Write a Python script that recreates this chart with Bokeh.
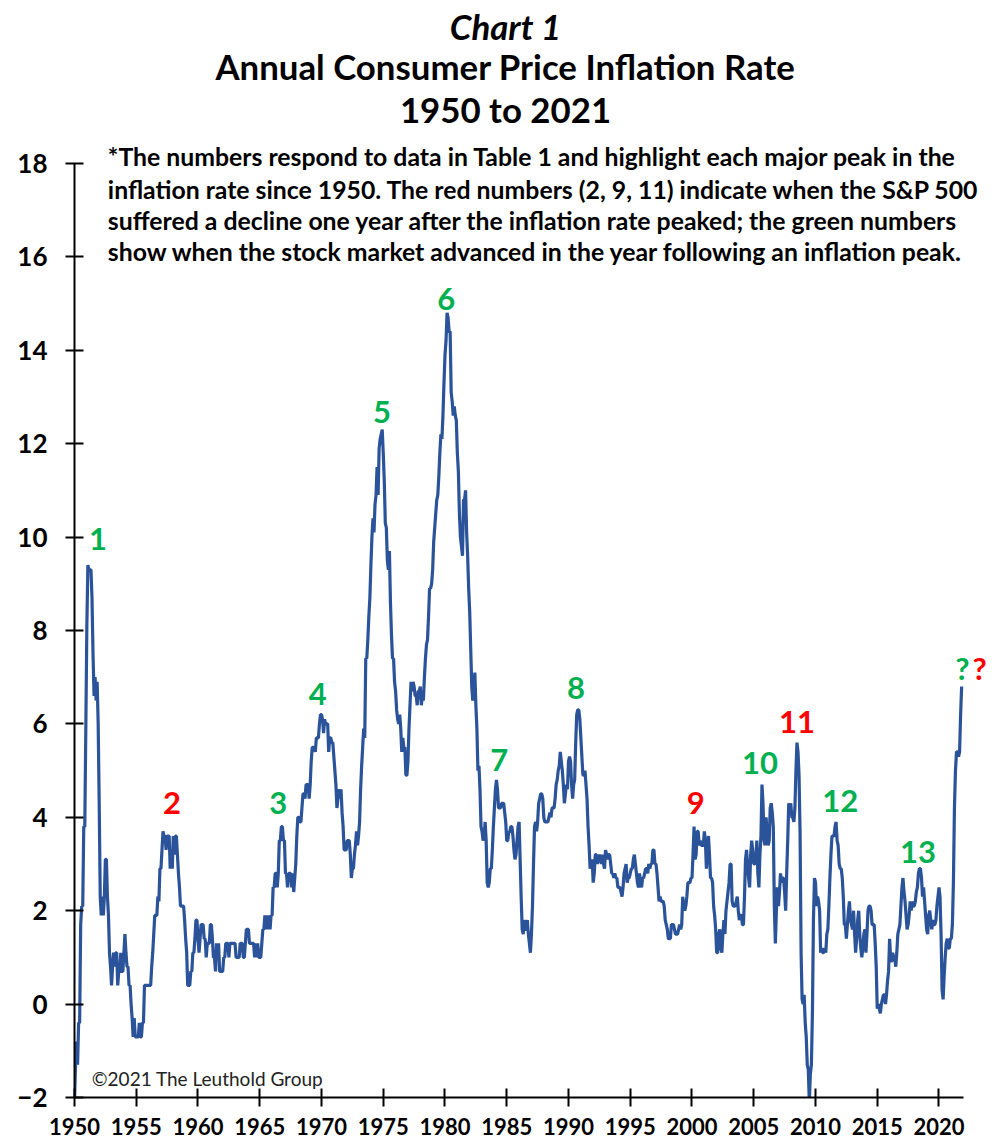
from bokeh.plotting import figure
from bokeh.models import Label, Range1d, FixedTicker, ColumnDataSource
from bokeh.embed import file_html
from bokeh.resources import INLINE

# Monthly annual CPI inflation rate (%)
cpi_1950s = [
    -2.1, -1.3, -0.8, -1.3, -0.4, -0.4, 1.7, 2.1, 2.1, 3.8, 3.8, 5.9,
    8.1, 9.4, 9.3, 9.3, 9.3, 8.7, 7.5, 6.6, 7.0, 6.5, 6.9, 6.0,
    4.3, 2.3, 1.9, 2.3, 1.9, 2.3, 3.1, 3.1, 2.3, 1.9, 1.1, 0.8,
    0.4, 0.8, 1.1, 0.8, 1.1, 1.1, 0.4, 0.7, 0.7, 1.1, 0.7, 0.7,
    1.1, 1.5, 1.1, 0.8, 0.8, 0.4, 0.4, 0.0, -0.3, -0.7, -0.3, -0.7,
    -0.7, -0.7, -0.7, -0.4, -0.7, -0.7, -0.4, -0.4, 0.4, 0.4, 0.4, 0.4,
    0.4, 0.4, 0.4, 0.8, 1.1, 1.5, 1.9, 1.9, 1.9, 2.3, 2.2, 2.9,
    2.9, 3.3, 3.7, 3.6, 3.6, 3.3, 3.6, 3.6, 3.6, 2.9, 3.2, 2.9,
    3.6, 3.2, 3.6, 3.6, 3.2, 2.8, 2.5, 2.1, 2.1, 2.1, 2.1, 1.8,
    1.4, 1.1, 0.4, 0.4, 0.4, 0.7, 0.7, 1.1, 1.1, 1.4, 1.8, 1.8,
]
cpi_1960s = [
    1.4, 1.1, 1.4, 1.7, 1.7, 1.7, 1.4, 1.4, 1.0, 1.3, 1.3, 1.3,
    1.7, 1.7, 1.4, 1.0, 1.0, 0.7, 1.3, 1.0, 1.3, 0.7, 0.7, 0.7,
    0.7, 1.0, 1.0, 1.3, 1.3, 1.3, 1.0, 1.3, 1.3, 1.3, 1.3, 1.3,
    1.3, 1.0, 1.0, 1.0, 1.0, 1.3, 1.3, 1.3, 1.0, 1.0, 1.3, 1.6,
    1.6, 1.6, 1.3, 1.3, 1.3, 1.3, 1.3, 1.0, 1.3, 1.0, 1.3, 1.0,
    1.0, 1.0, 1.3, 1.6, 1.6, 1.9, 1.6, 1.9, 1.6, 1.9, 1.6, 1.9,
    1.9, 2.5, 2.5, 2.8, 2.8, 2.5, 2.8, 3.5, 3.5, 3.8, 3.8, 3.5,
    3.5, 2.8, 2.8, 2.5, 2.8, 2.8, 2.8, 2.5, 2.8, 2.4, 2.7, 3.0,
    3.6, 4.0, 4.0, 3.9, 3.9, 4.2, 4.5, 4.5, 4.4, 4.7, 4.7, 4.7,
    4.4, 4.7, 5.2, 5.5, 5.5, 5.5, 5.4, 5.7, 5.7, 5.7, 6.0, 6.2,
]
cpi_1970s = [
    6.2, 6.1, 5.8, 6.1, 6.0, 6.0, 6.0, 5.4, 5.7, 5.7, 5.6, 5.6,
    5.3, 5.0, 4.7, 4.2, 4.4, 4.6, 4.4, 4.6, 4.1, 3.8, 3.3, 3.3,
    3.3, 3.5, 3.5, 3.5, 3.2, 2.7, 2.9, 2.9, 3.2, 3.4, 3.7, 3.4,
    3.6, 3.9, 4.6, 5.1, 5.5, 5.9, 5.7, 7.4, 7.4, 7.8, 8.3, 8.7,
    9.4, 10.0, 10.4, 10.1, 10.7, 10.9, 11.5, 10.9, 11.9, 12.1, 12.2, 12.3,
    11.8, 11.2, 10.3, 10.2, 9.5, 9.3, 9.7, 8.6, 7.9, 7.4, 7.4, 6.9,
    6.7, 6.3, 6.1, 6.0, 6.2, 5.9, 5.4, 5.7, 5.5, 5.5, 4.9, 4.9,
    5.2, 5.9, 6.4, 6.9, 6.7, 6.9, 6.8, 6.6, 6.6, 6.4, 6.7, 6.7,
    6.8, 6.4, 6.6, 6.5, 7.0, 7.4, 7.7, 7.8, 8.3, 8.9, 8.9, 9.0,
    9.3, 9.9, 10.2, 10.5, 10.8, 10.9, 11.3, 11.8, 12.2, 12.1, 12.6, 13.3,
]
cpi_1980s = [
    13.9, 14.2, 14.8, 14.7, 14.4, 14.4, 13.1, 12.9, 12.6, 12.8, 12.6, 12.5,
    11.8, 11.4, 10.5, 10.0, 9.8, 9.6, 10.8, 10.8, 11.0, 10.1, 9.6, 8.9,
    8.4, 7.6, 6.8, 6.5, 6.7, 7.1, 6.4, 5.9, 5.0, 5.1, 4.6, 3.8,
    3.7, 3.5, 3.6, 3.9, 3.5, 2.6, 2.5, 2.6, 2.9, 2.9, 3.3, 3.8,
    4.2, 4.6, 4.8, 4.6, 4.2, 4.2, 4.2, 4.3, 4.3, 4.3, 4.1, 3.9,
    3.5, 3.5, 3.7, 3.7, 3.8, 3.8, 3.6, 3.3, 3.1, 3.2, 3.5, 3.8,
    3.9, 3.1, 2.3, 1.6, 1.5, 1.8, 1.6, 1.6, 1.8, 1.5, 1.3, 1.1,
    1.5, 2.1, 3.0, 3.8, 3.9, 3.7, 3.9, 4.3, 4.4, 4.5, 4.5, 4.4,
    4.0, 3.9, 3.9, 3.9, 3.9, 4.0, 4.1, 4.0, 4.2, 4.2, 4.2, 4.4,
    4.7, 4.8, 5.0, 5.1, 5.4, 5.2, 5.0, 4.7, 4.3, 4.5, 4.7, 4.6,
]
cpi_1990s = [
    5.2, 5.3, 5.2, 4.7, 4.4, 4.7, 4.8, 5.6, 6.2, 6.3, 6.3, 6.1,
    5.7, 5.3, 4.9, 4.9, 5.0, 4.7, 4.4, 3.8, 3.4, 2.9, 3.0, 3.1,
    2.6, 2.8, 3.2, 3.2, 3.0, 3.1, 3.2, 3.1, 3.0, 3.2, 3.0, 2.9,
    3.3, 3.2, 3.1, 3.2, 3.2, 3.0, 2.8, 2.8, 2.7, 2.8, 2.7, 2.7,
    2.5, 2.5, 2.5, 2.4, 2.3, 2.5, 2.8, 2.9, 3.0, 2.6, 2.7, 2.7,
    2.8, 2.9, 2.9, 3.1, 3.2, 3.0, 2.8, 2.6, 2.5, 2.8, 2.6, 2.5,
    2.7, 2.7, 2.8, 2.9, 2.9, 2.8, 3.0, 2.9, 3.0, 3.0, 3.3, 3.3,
    3.0, 3.0, 2.8, 2.5, 2.2, 2.3, 2.2, 2.2, 2.2, 2.1, 1.8, 1.7,
    1.6, 1.4, 1.4, 1.4, 1.7, 1.7, 1.7, 1.6, 1.5, 1.5, 1.5, 1.6,
    1.7, 1.6, 1.7, 2.3, 2.1, 2.0, 2.1, 2.3, 2.6, 2.6, 2.6, 2.7,
]
cpi_2000s = [
    2.7, 3.2, 3.8, 3.1, 3.2, 3.7, 3.7, 3.4, 3.5, 3.4, 3.4, 3.4,
    3.7, 3.5, 2.9, 3.3, 3.6, 3.2, 2.7, 2.7, 2.6, 2.1, 1.9, 1.6,
    1.1, 1.1, 1.5, 1.6, 1.2, 1.1, 1.5, 1.8, 1.5, 2.0, 2.2, 2.4,
    2.6, 3.0, 3.0, 2.2, 2.1, 2.1, 2.1, 2.2, 2.3, 2.0, 1.8, 1.9,
    1.9, 1.7, 1.7, 2.3, 3.1, 3.3, 3.0, 2.7, 2.5, 3.2, 3.5, 3.3,
    3.0, 3.0, 3.1, 3.5, 2.8, 2.5, 3.2, 3.6, 4.7, 4.3, 3.5, 3.4,
    4.0, 3.6, 3.4, 3.5, 4.2, 4.3, 4.1, 3.8, 2.1, 1.3, 2.0, 2.5,
    2.1, 2.4, 2.8, 2.6, 2.7, 2.7, 2.4, 2.0, 2.8, 3.5, 4.3, 4.1,
    4.3, 4.0, 4.0, 3.9, 4.2, 5.0, 5.6, 5.4, 4.9, 3.7, 1.1, 0.1,
    0.0, 0.2, -0.4, -0.7, -1.3, -1.4, -2.1, -1.5, -1.3, -0.2, 1.8, 2.7,
]
cpi_2010s = [
    2.6, 2.1, 2.3, 2.2, 2.0, 1.1, 1.2, 1.1, 1.1, 1.2, 1.1, 1.5,
    1.6, 2.1, 2.7, 3.2, 3.6, 3.6, 3.6, 3.8, 3.9, 3.5, 3.4, 3.0,
    2.9, 2.9, 2.7, 2.3, 1.7, 1.7, 1.4, 1.7, 2.0, 2.2, 1.8, 1.7,
    1.6, 2.0, 1.5, 1.1, 1.4, 1.8, 2.0, 1.5, 1.2, 1.0, 1.2, 1.5,
    1.6, 1.1, 1.5, 2.0, 2.1, 2.1, 2.0, 1.7, 1.7, 1.7, 1.3, 0.8,
    -0.1, 0.0, -0.1, -0.2, 0.0, 0.1, 0.2, 0.2, 0.0, 0.2, 0.5, 0.7,
    1.4, 1.0, 0.9, 1.1, 1.0, 1.0, 0.8, 1.1, 1.5, 1.6, 1.7, 2.1,
    2.5, 2.7, 2.4, 2.2, 1.9, 1.6, 1.7, 1.9, 2.2, 2.0, 2.2, 2.1,
    2.1, 2.2, 2.4, 2.5, 2.8, 2.9, 2.9, 2.7, 2.3, 2.5, 2.2, 1.9,
    1.6, 1.5, 1.9, 2.0, 1.8, 1.6, 1.8, 1.7, 1.7, 1.8, 2.1, 2.3,
]
cpi_2020s = [
    2.5, 2.3, 1.5, 0.3, 0.1, 0.6, 1.0, 1.3, 1.4, 1.2, 1.2, 1.4,
    1.4, 1.7, 2.6, 4.2, 5.0, 5.4, 5.4, 5.3, 5.4, 6.2, 6.8,
]
start_year = 1950

# Peak labels
peak_labels = ["1", "2", "3", "4", "5", "6", "7", "8", "9", "10", "11", "12", "13", "?", "?"]
peak_x = [1951.9, 1957.9, 1966.5, 1969.7, 1974.9, 1980.1, 1984.4, 1990.6, 2000.3,
          2005.5, 2008.5, 2012.0, 2018.3, 2021.9, 2023.3]
peak_y = [9.95, 4.3, 4.3, 6.65, 12.67, 15.1, 5.22, 6.76, 4.3, 5.17, 6.05, 4.34, 3.25, 7.2, 7.2]
peak_color = ["#00B050", "#FF0000", "#00B050", "#00B050", "#00B050", "#00B050", "#00B050",
              "#00B050", "#FF0000", "#00B050", "#FF0000", "#00B050", "#00B050",
              "#00B050", "#FF0000"]

x_ticks = list(range(1950, 2021, 5))
y_ticks = list(range(-2, 19, 2))

values = cpi_1950s + cpi_1960s + cpi_1970s + cpi_1980s + cpi_1990s + cpi_2000s + cpi_2010s + cpi_2020s
dates = [start_year + i / 12.0 for i in range(len(values))]
src = ColumnDataSource(dict(x=dates, y=values))

# Frame covers the whole area above the x axis and right of the y axis;
# axis bounds limit the drawn axes to the chart's extent.
p = figure(width=1000, height=1147, output_backend="svg", toolbar_location=None,
           x_range=Range1d(1950, 2024.98), y_range=Range1d(-2, 21.49))
p.min_border_left = 74
p.min_border_right = 0
p.min_border_top = 0
p.min_border_bottom = 50
p.outline_line_color = None
p.xgrid.grid_line_color = None
p.ygrid.grid_line_color = None
p.background_fill_color = "white"
p.border_fill_color = "white"

p.line("x", "y", source=src, line_color="#2B539A", line_width=3.2)

for ax in (p.xaxis[0], p.yaxis[0]):
    ax.axis_line_width = 2
    ax.axis_line_color = "black"
    ax.major_tick_line_width = 2
    ax.major_tick_line_color = "black"
    ax.major_tick_in = 9
    ax.major_tick_out = 9
    ax.minor_tick_line_color = None
    ax.major_label_text_font = "Lato"
    ax.major_label_text_font_style = "bold"
    ax.major_label_text_color = "black"

p.xaxis.bounds = (1950, 2022.0)
p.yaxis.bounds = (-2, 18)
p.xaxis.ticker = FixedTicker(ticks=x_ticks)
p.yaxis.ticker = FixedTicker(ticks=y_ticks)
p.xaxis.major_label_text_font_size = "22px"
p.yaxis.major_label_text_font_size = "26px"
p.xaxis.major_label_standoff = 11
p.yaxis.major_label_standoff = 18

# Title lines
title_lines = ["Chart 1", "Annual Consumer Price Inflation Rate", "1950 to 2021"]
title_y = [20.93, 20.07, 19.15]
title_style = ["bold italic", "bold", "bold"]
for t, ty, st in zip(title_lines, title_y, title_style):
    p.add_layout(Label(x=1984.9, y=ty, text=t, text_font="Lato", text_font_size="34.8px",
                       text_font_style=st, text_align="center", text_baseline="middle",
                       text_color="black"))

note_lines = [
    "*The numbers respond to data in Table 1 and highlight each major peak in the",
    "inflation rate since 1950. The red numbers (2, 9, 11) indicate when the S&P 500",
    "suffered a decline one year after the inflation rate peaked; the green numbers",
    "show when the stock market advanced in the year following an inflation peak.",
]
note_y = [18.15, 17.45, 16.77, 16.11]
for t, ny in zip(note_lines, note_y):
    p.add_layout(Label(x=1952.7, y=ny, text=t, text_font="Lato", text_font_size="24.8px",
                       text_font_style="bold", text_align="left", text_baseline="middle",
                       text_color="black"))

for t, lx, ly, c in zip(peak_labels, peak_x, peak_y, peak_color):
    p.add_layout(Label(x=lx, y=ly, text=t, text_font="Lato", text_font_size="31px",
                       text_font_style="bold", text_align="center", text_baseline="middle",
                       text_color=c))

p.add_layout(Label(x=1951.4, y=-1.6, text="\u00a92021 The Leuthold Group", text_font="Lato",
                   text_font_size="19px", text_align="left", text_baseline="middle",
                   text_color="#222222"))

open("out.html", "w").write(file_html(p, INLINE))
